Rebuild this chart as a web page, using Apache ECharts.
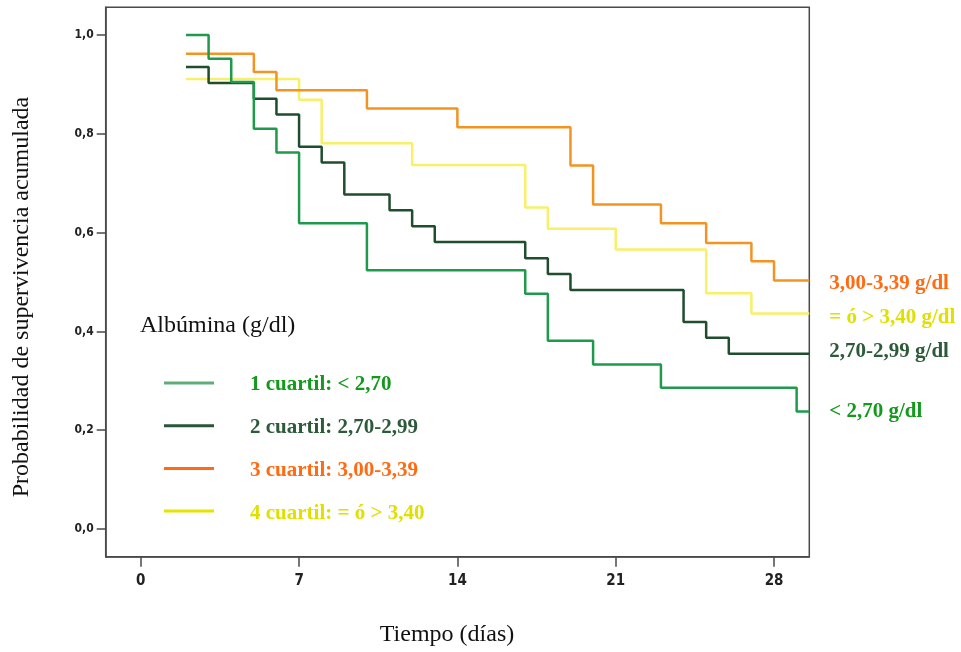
<!DOCTYPE html>
<html>
<head>
<meta charset="utf-8">
<script src="https://cdn.jsdelivr.net/npm/echarts@6/dist/echarts.min.js"></script>
<style>
  html, body { margin: 0; padding: 0; background: #fff; }
  #chart { width: 961px; height: 652px; }
</style>
</head>
<body>
<div id="chart"></div>
<script>
// tiempos (días) y supervivencia acumulada, por cuartil de albúmina
const xTicks = [0, 7, 14, 21, 28];
const yTicks = [0, 0.2, 0.4, 0.6, 0.8, 1.0];
const tEnd = 29.56;

const q1Days = [2, 3, 4, 5, 6, 7, 10, 17, 18, 20, 23, 29, tEnd];
const q1Surv = [1.0, 0.952, 0.905, 0.810, 0.762, 0.619, 0.524, 0.476, 0.381, 0.333, 0.286, 0.238, 0.238];

const q2Days = [2, 3, 5, 6, 7, 8, 9, 11, 12, 13, 17, 18, 19, 24, 25, 26, tEnd];
const q2Surv = [0.935, 0.903, 0.871, 0.839, 0.774, 0.742, 0.677, 0.645, 0.613, 0.581, 0.548, 0.516, 0.484, 0.419, 0.387, 0.355, 0.355];

const q3Days = [2, 5, 6, 10, 14, 19, 20, 23, 25, 27, 28, tEnd];
const q3Surv = [0.962, 0.925, 0.888, 0.851, 0.813, 0.736, 0.657, 0.619, 0.579, 0.542, 0.503, 0.503];

const q4Days = [2, 7, 8, 12, 17, 18, 21, 25, 27, tEnd];
const q4Surv = [0.911, 0.869, 0.781, 0.737, 0.651, 0.608, 0.566, 0.477, 0.436, 0.436];

const legendTitle = 'Albúmina (g/dl)';
const legendLabels = ['1 cuartil: < 2,70', '2 cuartil: 2,70-2,99', '3 cuartil: 3,00-3,39', '4 cuartil: = ó > 3,40'];
const endLabels = ['< 2,70 g/dl', '2,70-2,99 g/dl', '3,00-3,39 g/dl', '= ó > 3,40 g/dl'];

const lineColors = ['#1f9a4c', '#1f4d2e', '#f39422', '#f7f068'];
const legendColors = ['#5fae78', '#2a5638', '#ff6a12', '#e4e400'];
const textColors = ['#139a1c', '#2d5a3a', '#ff6a12', '#e0e000'];

const serif = '"Liberation Serif", "Times New Roman", serif';
const narrow = '"Liberation Sans Narrow", "Arial Narrow", "DejaVu Sans Condensed", sans-serif';

function pairs(days, surv) {
    return days.map((d, i) => [d, surv[i]]);
}

const curves = [
    pairs(q1Days, q1Surv),
    pairs(q2Days, q2Surv),
    pairs(q3Days, q3Surv),
    pairs(q4Days, q4Surv)
];

// orden de dibujo: amarillo abajo, verde arriba
const drawOrder = [3, 2, 1, 0];
const labelOffset = [[0, 0], [0, -2], [0, 3], [0, 4]];

const series = drawOrder.map(i => ({
    name: legendLabels[i],
    type: 'line',
    step: 'end',
    symbol: 'none',
    silent: true,
    lineStyle: { color: lineColors[i], width: 2.5 },
    data: curves[i],
    endLabel: {
        show: true,
        formatter: endLabels[i],
        distance: 20,
        offset: labelOffset[i],
        color: textColors[i],
        fontFamily: serif,
        fontWeight: 'bold',
        fontSize: 21
    }
}));

// leyenda dibujada a mano
const legendGraphic = [{
    type: 'text', x: 140, y: 326,
    style: { text: legendTitle, font: '24px ' + serif, fill: '#111', textVerticalAlign: 'middle' }
}];
legendLabels.forEach((lbl, i) => {
    const y = 383 + i * 42.7;
    legendGraphic.push({
        type: 'line',
        shape: { x1: 164, y1: y, x2: 214, y2: y },
        style: { stroke: legendColors[i], lineWidth: 3 }
    });
    legendGraphic.push({
        type: 'text', x: 250, y: y + 2,
        style: {
            text: lbl, font: 'bold 21px ' + serif, fill: textColors[i],
            textVerticalAlign: 'middle'
        }
    });
});

const chart = echarts.init(document.getElementById('chart'));
chart.setOption({
    animation: false,
    grid: {
        left: 105.7, right: 151.7, top: 7.3, bottom: 95.3,
        show: true, borderColor: '#4a4a4a', borderWidth: 1.5
    },
    xAxis: {
        type: 'value',
        min: -1.55,
        max: tEnd,
        splitLine: { show: false },
        axisLine: { onZero: false, lineStyle: { color: '#4a4a4a', width: 1.5 } },
        axisTick: { customValues: xTicks, length: 10, lineStyle: { color: '#4a4a4a', width: 1.5 } },
        axisLabel: {
            customValues: xTicks, margin: 17,
            color: '#222', fontFamily: narrow, fontWeight: 'bold', fontSize: 15
        }
    },
    yAxis: {
        type: 'value',
        min: -0.056,
        max: 1.056,
        splitLine: { show: false },
        axisLine: { onZero: false, lineStyle: { color: '#4a4a4a', width: 1.5 } },
        axisTick: { customValues: yTicks, length: 9, lineStyle: { color: '#4a4a4a', width: 1.5 } },
        axisLabel: {
            customValues: yTicks, margin: 12,
            color: '#222', fontFamily: narrow, fontWeight: 'bold', fontSize: 12,
            formatter: v => v.toFixed(1).replace('.', ',')
        }
    },
    series: series,
    graphic: [
        {
            type: 'text', x: 22, y: 297, rotation: Math.PI / 2,
            style: {
                text: 'Probabilidad de supervivencia acumulada', font: '24px ' + serif,
                fill: '#111', textAlign: 'center', textVerticalAlign: 'middle'
            }
        },
        {
            type: 'text', x: 447, y: 635,
            style: {
                text: 'Tiempo (días)', font: '24px ' + serif,
                fill: '#111', textAlign: 'center', textVerticalAlign: 'middle'
            }
        }
    ].concat(legendGraphic)
});
</script>
</body>
</html>
